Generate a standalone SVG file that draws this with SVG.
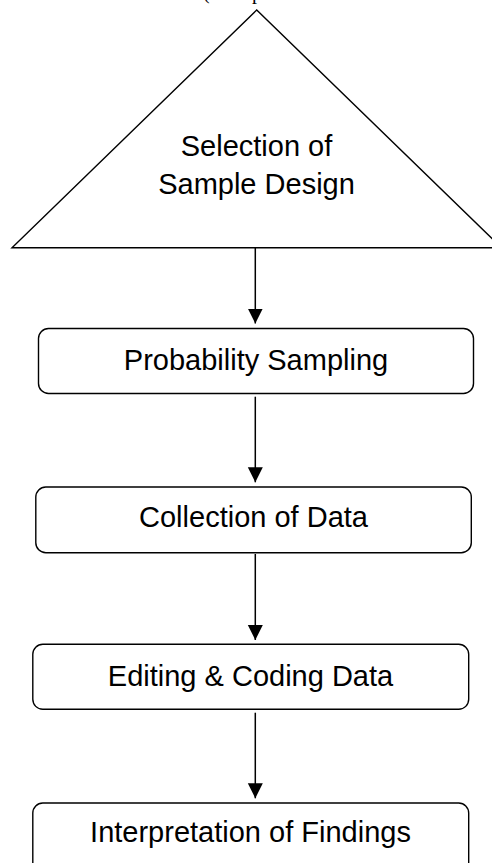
<svg xmlns="http://www.w3.org/2000/svg" width="492" height="863" viewBox="0 0 492 863">
<defs>
<marker id="ah" markerWidth="16" markerHeight="16" refX="15" refY="7.5" orient="auto" markerUnits="userSpaceOnUse">
<path d="M0,0 L15,7.5 L0,15 Z" fill="#000"/>
</marker>
<style>
.shape{fill:#fff;stroke:#000;stroke-width:1.4}
.lbl{font-family:"Liberation Sans",Arial,sans-serif;font-size:29px;fill:#000;text-anchor:middle}
.frag{font-family:"Liberation Serif","Times New Roman",serif;font-size:20px;fill:#000}
.conn{stroke:#000;stroke-width:1.5;fill:none}
</style>
</defs>
<rect width="492" height="863" fill="#fff"/>
<text class="frag" x="203" y="-1">(</text>
<text class="frag" x="252" y="-1">p</text>
<g id="node-selection">
<polygon class="shape" points="256.7,10 12,247.7 501.4,247.7"/>
<text class="lbl" x="256.5" y="156">Selection of</text>
<text class="lbl" x="256.5" y="194">Sample Design</text>
</g>
<g id="node-probability">
<rect class="shape" x="38.5" y="328.5" width="435" height="65" rx="10"/>
<text class="lbl" x="256" y="369.5">Probability Sampling</text>
</g>
<g id="node-collection">
<rect class="shape" x="35.8" y="487" width="435.5" height="65.7" rx="10"/>
<text class="lbl" x="253.5" y="527">Collection of Data</text>
</g>
<g id="node-editing">
<rect class="shape" x="32.8" y="644.3" width="435.9" height="65" rx="10"/>
<text class="lbl" x="250.5" y="685.5">Editing &amp; Coding Data</text>
</g>
<g id="node-interpretation">
<rect class="shape" x="32.8" y="803" width="435.9" height="70" rx="10"/>
<text class="lbl" x="250.5" y="842">Interpretation of Findings</text>
</g>
<g id="connectors">
<line class="conn" x1="255.3" y1="248" x2="255.3" y2="323.5" marker-end="url(#ah)"/>
<line class="conn" x1="255.3" y1="396.7" x2="255.3" y2="482.3" marker-end="url(#ah)"/>
<line class="conn" x1="255.3" y1="554" x2="255.3" y2="640" marker-end="url(#ah)"/>
<line class="conn" x1="255.3" y1="712.7" x2="255.3" y2="798.3" marker-end="url(#ah)"/>
</g>
</svg>
